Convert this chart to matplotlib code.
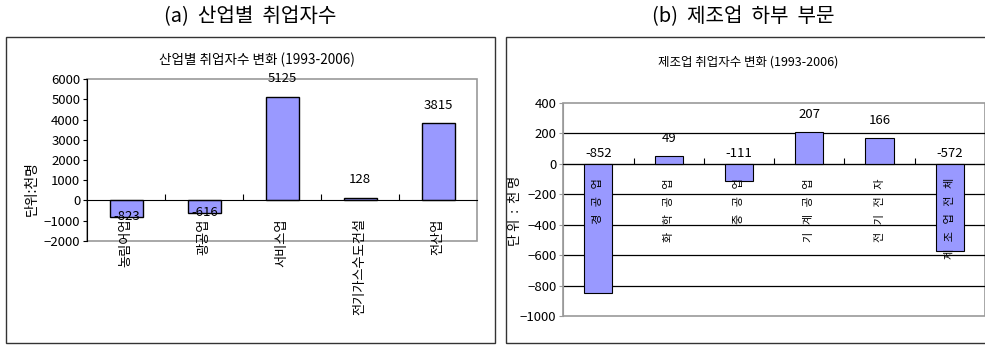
import numpy as np
import matplotlib
matplotlib.use('Agg')
import matplotlib.pyplot as plt
from matplotlib.patches import Rectangle

plt.rcParams['font.family'] = ['Noto Sans CJK KR', 'DejaVu Sans']

# data (천명, 1993-2006 변화)
ind_names = ['농림어업', '광공업', '서비스업', '전기가스수도건설', '전산업']
ind_values = [-823, -616, 5125, 128, 3815]

mfg_names = ['경공업', '화학공업', '중공업', '기계공업', '전기전자', '제조업전체']
mfg_values = [-852, 49, -111, 207, 166, -572]

W, H = 985, 345
bar_color = '#9999ff'
border = '#999999'

fig = plt.figure(figsize=(W / 100, H / 100), dpi=100)

def fx(x):
    return x / W

def fy(y):
    return 1 - y / H

# outer frames
fig.patches.append(Rectangle((fx(5.5), fy(343)), fx(489), (343 - 36.5) / H,
                             transform=fig.transFigure, fill=False,
                             edgecolor='#333333', lw=1))
fig.patches.append(Rectangle((fx(506), fy(343)), fx(485), (343 - 36.5) / H,
                             transform=fig.transFigure, fill=False,
                             edgecolor='#333333', lw=1))

fig.text(fx(250), fy(17), '(a)  산업별  취업자수', ha='center', va='center', fontsize=14.5)
fig.text(fx(743), fy(17), '(b)  제조업  하부  부문', ha='center', va='center', fontsize=14.5)

# ---- left panel ----
ax1 = fig.add_axes([fx(87.3), fy(240.7), fx(390), 161.4 / H])
x1 = np.arange(len(ind_values))
ax1.bar(x1, ind_values, width=0.42, color=bar_color, edgecolor='black', lw=1, zorder=3)
ax1.set_xlim(-0.5, len(ind_values) - 0.5)
ax1.set_ylim(-2000, 6000)
ax1.set_yticks(np.arange(-2000, 6001, 1000))
ax1.spines['top'].set_visible(False)
ax1.spines['right'].set_visible(False)
ax1.spines['bottom'].set_position(('data', 0))
ax1.spines['bottom'].set_zorder(4)
ax1.patch.set_edgecolor(border)
ax1.patch.set_linewidth(1.2)
ax1.set_xticks(x1[:-1] + 0.5)
ax1.set_xticklabels([])
ax1.tick_params(axis='x', direction='in', length=4)
ax1.tick_params(axis='y', direction='out', length=3, labelsize=9.5, pad=2)
for i, v in enumerate(ind_values):
    if v >= 0:
        ax1.annotate(str(v), (i, v), xytext=(0, 13), textcoords='offset points',
                     ha='center', va='center', fontsize=9.5, zorder=5)
    else:
        ax1.annotate(str(v), (i, v), xytext=(0, 0), textcoords='offset points',
                     ha='center', va='center', fontsize=9.5, zorder=5)
    ax1.annotate(ind_names[i], (i, 0), xytext=(0, -13), textcoords='offset points',
                 ha='center', va='top', rotation=90, fontsize=9.5,
                 annotation_clip=False)
fig.text(fx(257), fy(60), '산업별 취업자수 변화 (1993-2006)', ha='center', va='center', fontsize=9.8)
fig.text(fx(32), fy(189), '단위:천명', rotation=90, ha='center', va='center', fontsize=10)

# ---- right panel ----
ax2 = fig.add_axes([fx(563.2), fy(316), fx(421.8), 213.3 / H])
x2 = np.arange(len(mfg_values))
ax2.bar(x2, mfg_values, width=0.4, color=bar_color, edgecolor='black', lw=0.8, zorder=3)
ax2.set_xlim(-0.5, len(mfg_values) - 0.5)
ax2.set_ylim(-1000, 400)
ax2.set_yticks(np.arange(-1000, 401, 200))
ax2.yaxis.grid(True, color='black', lw=0.9, zorder=1)
grid = ax2.get_ygridlines()
grid[0].set_visible(False)
grid[-1].set_visible(False)
ax2.spines['top'].set_visible(False)
ax2.spines['right'].set_visible(False)
ax2.spines['left'].set_color(border)
ax2.spines['bottom'].set_position(('data', 0))
ax2.spines['bottom'].set_zorder(4)
ax2.patch.set_edgecolor(border)
ax2.patch.set_linewidth(1.2)
ax2.set_xticks(x2[:-1] + 0.5)
ax2.set_xticklabels([])
ax2.tick_params(axis='x', direction='in', length=4)
ax2.tick_params(axis='y', direction='out', length=3, labelsize=9.5, pad=2, color=border)
for i, v in enumerate(mfg_values):
    if v >= 0:
        ax2.annotate(str(v), (i, v), xytext=(0, 12.5), textcoords='offset points',
                     ha='center', va='center', fontsize=9.5, zorder=5)
    else:
        ax2.annotate(str(v), (i, 0), xytext=(0, 7.5), textcoords='offset points',
                     ha='center', va='center', fontsize=9.5, zorder=5)
    ax2.annotate('   '.join(mfg_names[i]), (i, 0), xytext=(0, -10.5),
                 textcoords='offset points', ha='center', va='top', rotation=90,
                 fontsize=8, zorder=5, annotation_clip=False)
fig.text(fx(748), fy(62), '제조업 취업자수 변화 (1993-2006)', ha='center', va='center', fontsize=9)
fig.text(fx(515), fy(211), '단 위  :  천 명', rotation=90, ha='center', va='center', fontsize=9.5)

fig.savefig('out.png', dpi=100)
